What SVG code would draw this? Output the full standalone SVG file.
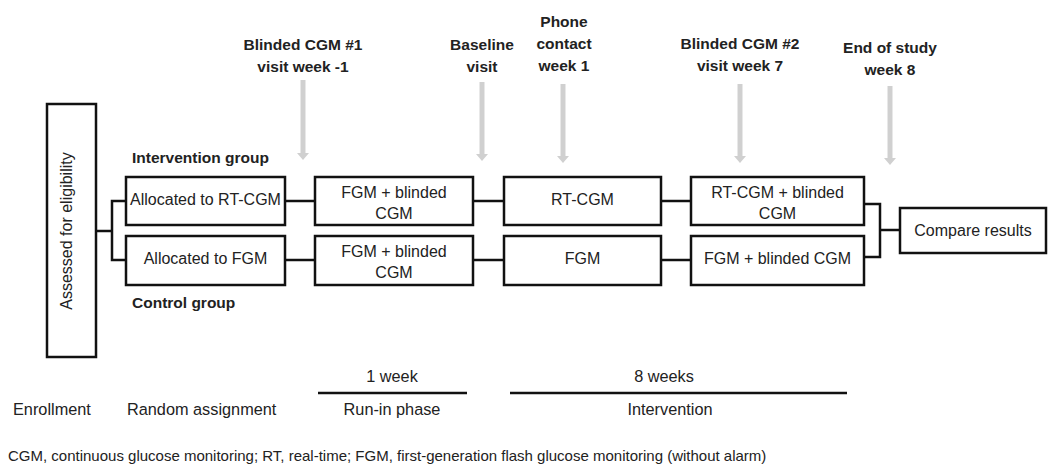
<svg xmlns="http://www.w3.org/2000/svg" width="1048" height="465" viewBox="0 0 1048 465">
<style>
.box{fill:#fff;stroke:#111;stroke-width:2.5}
.t{font-family:"Liberation Sans",Arial,sans-serif;font-size:16px;fill:#222;text-anchor:middle}
.b{font-family:"Liberation Sans",Arial,sans-serif;font-size:15.5px;font-weight:bold;fill:#222;text-anchor:middle}
.bl{font-family:"Liberation Sans",Arial,sans-serif;font-size:15.5px;font-weight:bold;fill:#222}
.l{font-family:"Liberation Sans",Arial,sans-serif;font-size:16.3px;fill:#222}
.c{fill:none;stroke:#111;stroke-width:2.5}
.g{stroke:#d0d0d0;stroke-width:5}
.gh{fill:#d0d0d0}
.ft{font-family:"Liberation Sans",Arial,sans-serif;font-size:15px;fill:#222}
</style>
<rect width="1048" height="465" fill="#fff"/>
<g id="timepoints">
<text class="b" x="303" y="50">Blinded CGM #1</text>
<text class="b" x="303" y="72">visit week -1</text>
<text class="b" x="482" y="50">Baseline</text>
<text class="b" x="482" y="72">visit</text>
<text class="b" x="564" y="27">Phone</text>
<text class="b" x="564" y="49">contact</text>
<text class="b" x="564" y="71">week 1</text>
<text class="b" x="740" y="49">Blinded CGM #2</text>
<text class="b" x="740" y="71">visit week 7</text>
<text class="b" x="890" y="53">End of study</text>
<text class="b" x="890" y="75">week 8</text>
</g>
<g id="arrows">
<line class="g" x1="303" y1="80" x2="303" y2="154"/><polygon class="gh" points="297,153 309,153 303,160"/>
<line class="g" x1="482" y1="82" x2="482" y2="155"/><polygon class="gh" points="476,154 488,154 482,161"/>
<line class="g" x1="563" y1="84" x2="563" y2="157"/><polygon class="gh" points="557,156 569,156 563,163"/>
<line class="g" x1="740" y1="84" x2="740" y2="157"/><polygon class="gh" points="734,156 746,156 740,163"/>
<line class="g" x1="890" y1="86" x2="890" y2="159"/><polygon class="gh" points="884,158 896,158 890,165"/>
</g>
<g id="connectors">
<polyline class="c" points="96,231 112,231"/>
<polyline class="c" points="126,201 112,201 112,260 126,260"/>
<line class="c" x1="285" y1="201" x2="315" y2="201"/>
<line class="c" x1="473" y1="201" x2="504" y2="201"/>
<line class="c" x1="661" y1="201" x2="691" y2="201"/>
<line class="c" x1="285" y1="260" x2="315" y2="260"/>
<line class="c" x1="473" y1="260" x2="504" y2="260"/>
<line class="c" x1="661" y1="260" x2="691" y2="260"/>
<polyline class="c" points="864,204 880,204 880,257 864,257"/>
<line class="c" x1="880" y1="230" x2="900" y2="230"/>
</g>
<g id="assessed">
<rect class="box" x="47" y="104" width="49" height="253"/>
<text class="t" font-size="20.5" transform="translate(72,231) rotate(-90)">Assessed for eligibility</text>
</g>
<text class="bl" x="132" y="163">Intervention group</text>
<text class="bl" x="132" y="308">Control group</text>
<g id="alloc-rt">
<rect class="box" x="126" y="177" width="159" height="48"/>
<text class="t" x="205.500" y="205">Allocated to RT-CGM</text>
</g>
<g id="runin-1">
<rect class="box" x="315" y="177" width="158" height="48"/>
<text class="t" x="394" y="198">FGM + blinded</text>
<text class="t" x="394" y="219">CGM</text>
</g>
<g id="rtcgm">
<rect class="box" x="504" y="177" width="157" height="48"/>
<text class="t" x="582.500" y="205">RT-CGM</text>
</g>
<g id="rtcgm-blinded">
<rect class="box" x="691" y="177" width="173" height="48"/>
<text class="t" x="777.500" y="198">RT-CGM + blinded</text>
<text class="t" x="777.500" y="219">CGM</text>
</g>
<g id="alloc-fgm">
<rect class="box" x="126" y="236" width="159" height="49"/>
<text class="t" x="205.500" y="264">Allocated to FGM</text>
</g>
<g id="runin-2">
<rect class="box" x="315" y="236" width="158" height="49"/>
<text class="t" x="394" y="257">FGM + blinded</text>
<text class="t" x="394" y="278">CGM</text>
</g>
<g id="fgm">
<rect class="box" x="504" y="236" width="157" height="49"/>
<text class="t" x="582.500" y="264">FGM</text>
</g>
<g id="fgm-blinded">
<rect class="box" x="691" y="236" width="173" height="49"/>
<text class="t" x="777.500" y="264">FGM + blinded CGM</text>
</g>
<g id="compare">
<rect class="box" x="900" y="208" width="146" height="45"/>
<text class="t" x="973" y="236">Compare results</text>
</g>
<g id="timeline">
<text class="l" x="392" y="382" text-anchor="middle">1 week</text>
<line x1="318" y1="393" x2="467" y2="393" stroke="#111" stroke-width="2.5"/>
<text class="l" x="392" y="415" text-anchor="middle">Run-in phase</text>
<text class="l" x="664" y="382" text-anchor="middle">8 weeks</text>
<line x1="510" y1="393" x2="847" y2="393" stroke="#111" stroke-width="2.5"/>
<text class="l" x="670" y="415" text-anchor="middle">Intervention</text>
<text class="l" x="13" y="415">Enrollment</text>
<text class="l" x="127" y="415">Random assignment</text>
</g>
<text class="ft" x="8" y="461">CGM, continuous glucose monitoring; RT, real-time; FGM, first-generation flash glucose monitoring (without alarm)</text>
</svg>
